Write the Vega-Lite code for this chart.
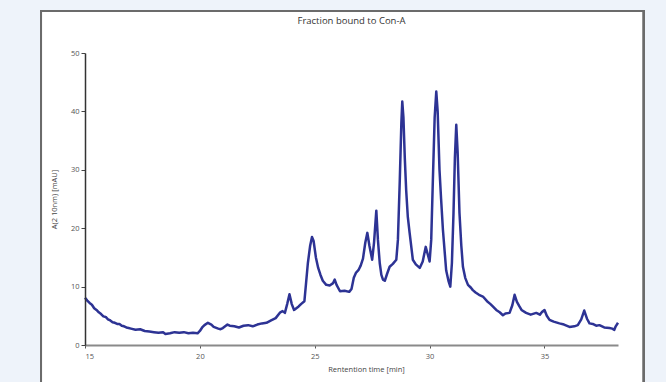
{
  "$schema": "https://vega.github.io/schema/vega-lite/v6.json",
  "width": 533,
  "height": 292,
  "autosize": {"type": "none"},
  "padding": {"left": 85, "top": 53, "right": 48, "bottom": 37},
  "background": "#eef3fa",
  "config": {
    "view": {"stroke": null},
    "font": "Open Sans"
  },
  "title": {
    "text": "Fraction bound to Con-A",
    "fontSize": 9.5,
    "fontWeight": "normal",
    "color": "#333333",
    "offset": -16,
    "zindex": 2
  },
  "data": {
    "values": [
      {"t": 15.0, "a": 8.1}, {"t": 15.1, "a": 7.6}, {"t": 15.2, "a": 7.2}, {"t": 15.3, "a": 6.9},
      {"t": 15.4, "a": 6.3}, {"t": 15.5, "a": 6.0}, {"t": 15.6, "a": 5.6}, {"t": 15.7, "a": 5.3},
      {"t": 15.8, "a": 4.9}, {"t": 15.9, "a": 4.8}, {"t": 16.0, "a": 4.4}, {"t": 16.1, "a": 4.2},
      {"t": 16.2, "a": 3.9}, {"t": 16.3, "a": 3.8}, {"t": 16.4, "a": 3.6}, {"t": 16.5, "a": 3.6},
      {"t": 16.6, "a": 3.3}, {"t": 16.7, "a": 3.2}, {"t": 16.8, "a": 3.0}, {"t": 16.9, "a": 2.9},
      {"t": 17.0, "a": 2.8}, {"t": 17.2, "a": 2.6}, {"t": 17.4, "a": 2.7}, {"t": 17.6, "a": 2.4},
      {"t": 17.8, "a": 2.3}, {"t": 18.0, "a": 2.2}, {"t": 18.2, "a": 2.1}, {"t": 18.4, "a": 2.2},
      {"t": 18.5, "a": 1.9}, {"t": 18.7, "a": 2.0}, {"t": 18.9, "a": 2.2}, {"t": 19.1, "a": 2.1},
      {"t": 19.3, "a": 2.2}, {"t": 19.5, "a": 2.0}, {"t": 19.7, "a": 2.1}, {"t": 19.9, "a": 2.0},
      {"t": 20.0, "a": 2.4}, {"t": 20.1, "a": 3.0}, {"t": 20.2, "a": 3.4}, {"t": 20.35, "a": 3.8},
      {"t": 20.5, "a": 3.5}, {"t": 20.6, "a": 3.1}, {"t": 20.8, "a": 2.8}, {"t": 20.9, "a": 2.7},
      {"t": 21.0, "a": 2.9}, {"t": 21.2, "a": 3.5}, {"t": 21.3, "a": 3.3}, {"t": 21.5, "a": 3.2},
      {"t": 21.7, "a": 3.0}, {"t": 21.9, "a": 3.3}, {"t": 22.1, "a": 3.4}, {"t": 22.3, "a": 3.2},
      {"t": 22.5, "a": 3.5}, {"t": 22.7, "a": 3.7}, {"t": 22.9, "a": 3.8}, {"t": 23.1, "a": 4.2},
      {"t": 23.3, "a": 4.6}, {"t": 23.5, "a": 5.6}, {"t": 23.6, "a": 5.8}, {"t": 23.7, "a": 5.5},
      {"t": 23.8, "a": 7.0}, {"t": 23.9, "a": 8.7}, {"t": 24.0, "a": 7.0}, {"t": 24.1, "a": 6.0},
      {"t": 24.2, "a": 6.3}, {"t": 24.3, "a": 6.6}, {"t": 24.4, "a": 7.0}, {"t": 24.55, "a": 7.5},
      {"t": 24.62, "a": 10.5}, {"t": 24.7, "a": 14.0}, {"t": 24.8, "a": 17.0}, {"t": 24.88, "a": 18.5},
      {"t": 24.95, "a": 17.8}, {"t": 25.05, "a": 15.0}, {"t": 25.15, "a": 13.2}, {"t": 25.25, "a": 12.0},
      {"t": 25.35, "a": 11.0}, {"t": 25.5, "a": 10.3}, {"t": 25.65, "a": 10.2}, {"t": 25.8, "a": 10.6},
      {"t": 25.87, "a": 11.2}, {"t": 25.95, "a": 10.3}, {"t": 26.1, "a": 9.2}, {"t": 26.3, "a": 9.3},
      {"t": 26.5, "a": 9.1}, {"t": 26.6, "a": 9.6}, {"t": 26.7, "a": 11.5}, {"t": 26.8, "a": 12.4},
      {"t": 26.9, "a": 12.8}, {"t": 27.0, "a": 13.6}, {"t": 27.1, "a": 14.8}, {"t": 27.2, "a": 17.5},
      {"t": 27.29, "a": 19.2}, {"t": 27.38, "a": 17.0}, {"t": 27.5, "a": 14.6}, {"t": 27.58, "a": 17.5},
      {"t": 27.68, "a": 23.0}, {"t": 27.75, "a": 18.0}, {"t": 27.83, "a": 14.0}, {"t": 27.9, "a": 12.0},
      {"t": 27.97, "a": 11.2}, {"t": 28.05, "a": 11.0}, {"t": 28.15, "a": 12.2}, {"t": 28.26, "a": 13.4},
      {"t": 28.4, "a": 13.9}, {"t": 28.55, "a": 14.6}, {"t": 28.62, "a": 18.0}, {"t": 28.7, "a": 28.0},
      {"t": 28.77, "a": 38.0}, {"t": 28.81, "a": 41.7}, {"t": 28.86, "a": 39.0}, {"t": 28.92, "a": 32.0},
      {"t": 28.98, "a": 26.5}, {"t": 29.05, "a": 22.0}, {"t": 29.13, "a": 19.2}, {"t": 29.27, "a": 14.6},
      {"t": 29.4, "a": 13.8}, {"t": 29.57, "a": 13.2}, {"t": 29.7, "a": 14.3}, {"t": 29.83, "a": 16.8},
      {"t": 29.92, "a": 15.5}, {"t": 30.0, "a": 14.3}, {"t": 30.07, "a": 18.0}, {"t": 30.14, "a": 28.0},
      {"t": 30.22, "a": 39.0}, {"t": 30.29, "a": 43.4}, {"t": 30.35, "a": 40.0}, {"t": 30.43, "a": 30.0},
      {"t": 30.5, "a": 25.0}, {"t": 30.58, "a": 19.7}, {"t": 30.72, "a": 12.8}, {"t": 30.82, "a": 11.0},
      {"t": 30.9, "a": 10.0}, {"t": 30.97, "a": 14.0}, {"t": 31.04, "a": 22.6}, {"t": 31.1, "a": 32.0},
      {"t": 31.16, "a": 37.7}, {"t": 31.22, "a": 33.0}, {"t": 31.3, "a": 22.6}, {"t": 31.38, "a": 17.0},
      {"t": 31.45, "a": 13.4}, {"t": 31.55, "a": 11.5}, {"t": 31.67, "a": 10.3}, {"t": 31.8, "a": 9.8},
      {"t": 31.88, "a": 9.4}, {"t": 32.0, "a": 9.0}, {"t": 32.15, "a": 8.6}, {"t": 32.32, "a": 8.3},
      {"t": 32.5, "a": 7.5}, {"t": 32.65, "a": 7.0}, {"t": 32.75, "a": 6.6}, {"t": 32.9, "a": 6.0},
      {"t": 33.05, "a": 5.6}, {"t": 33.19, "a": 5.1}, {"t": 33.3, "a": 5.4}, {"t": 33.48, "a": 5.5},
      {"t": 33.6, "a": 6.8}, {"t": 33.7, "a": 8.6}, {"t": 33.8, "a": 7.4}, {"t": 33.91, "a": 6.6},
      {"t": 34.0, "a": 6.0}, {"t": 34.2, "a": 5.5}, {"t": 34.4, "a": 5.2}, {"t": 34.64, "a": 5.5},
      {"t": 34.8, "a": 5.2}, {"t": 34.9, "a": 5.7}, {"t": 35.0, "a": 6.0}, {"t": 35.1, "a": 5.0},
      {"t": 35.22, "a": 4.3}, {"t": 35.4, "a": 4.0}, {"t": 35.65, "a": 3.7}, {"t": 35.85, "a": 3.5},
      {"t": 36.09, "a": 3.1}, {"t": 36.3, "a": 3.2}, {"t": 36.45, "a": 3.4}, {"t": 36.6, "a": 4.4},
      {"t": 36.73, "a": 5.9}, {"t": 36.85, "a": 4.5}, {"t": 36.96, "a": 3.7}, {"t": 37.1, "a": 3.6},
      {"t": 37.25, "a": 3.3}, {"t": 37.39, "a": 3.4}, {"t": 37.6, "a": 3.0}, {"t": 37.83, "a": 2.9},
      {"t": 37.95, "a": 2.8}, {"t": 38.04, "a": 2.6}, {"t": 38.1, "a": 3.2}, {"t": 38.2, "a": 3.8}
    ]
  },
  "layer": [
    {
      "mark": {"type": "rect", "fill": "#ffffff", "stroke": "#6b6b6b", "strokeWidth": 2, "clip": false},
      "encoding": {
        "x": {"datum": 13.087, "type": "quantitative"},
        "x2": {"datum": 39.3},
        "y": {"datum": 57.2, "type": "quantitative"},
        "y2": {"datum": -8}
      }
    },
    {
      "mark": {"type": "line", "color": "#2d3394", "strokeWidth": 2.5, "strokeJoin": "round"},
      "encoding": {
        "x": {
          "field": "t",
          "type": "quantitative",
          "scale": {"domain": [15, 38.2], "nice": false, "zero": false},
          "axis": {
            "values": [15, 20, 25, 30, 35],
            "grid": false,
            "zindex": 1,
            "title": "Rentention time [min]",
            "titleX": 281,
            "titleFontSize": 7.5,
            "titleFontWeight": "normal",
            "titleColor": "#444444",
            "titlePadding": 6,
            "labelFontSize": 7.5,
            "labelColor": "#555555",
            "labelPadding": 4,
            "tickSize": 3,
            "tickColor": "#555555",
            "domainColor": "#8a8a8a",
            "domainWidth": 2
          }
        },
        "y": {
          "field": "a",
          "type": "quantitative",
          "scale": {"domain": [0, 50], "nice": false},
          "axis": {
            "values": [0, 5, 10, 15, 20, 25, 30, 35, 40, 45, 50],
            "grid": false,
            "zindex": 1,
            "title": "A(2 10nm) [mAU]",
            "titleFontSize": 7.5,
            "titleFontWeight": "normal",
            "titleColor": "#444444",
            "titlePadding": 12,
            "labelFontSize": 7.5,
            "labelColor": "#555555",
            "labelPadding": 2,
            "tickSize": 4,
            "tickColor": "#444444",
            "domainColor": "#333333",
            "domainWidth": 1.5
          }
        }
      }
    }
  ]
}
